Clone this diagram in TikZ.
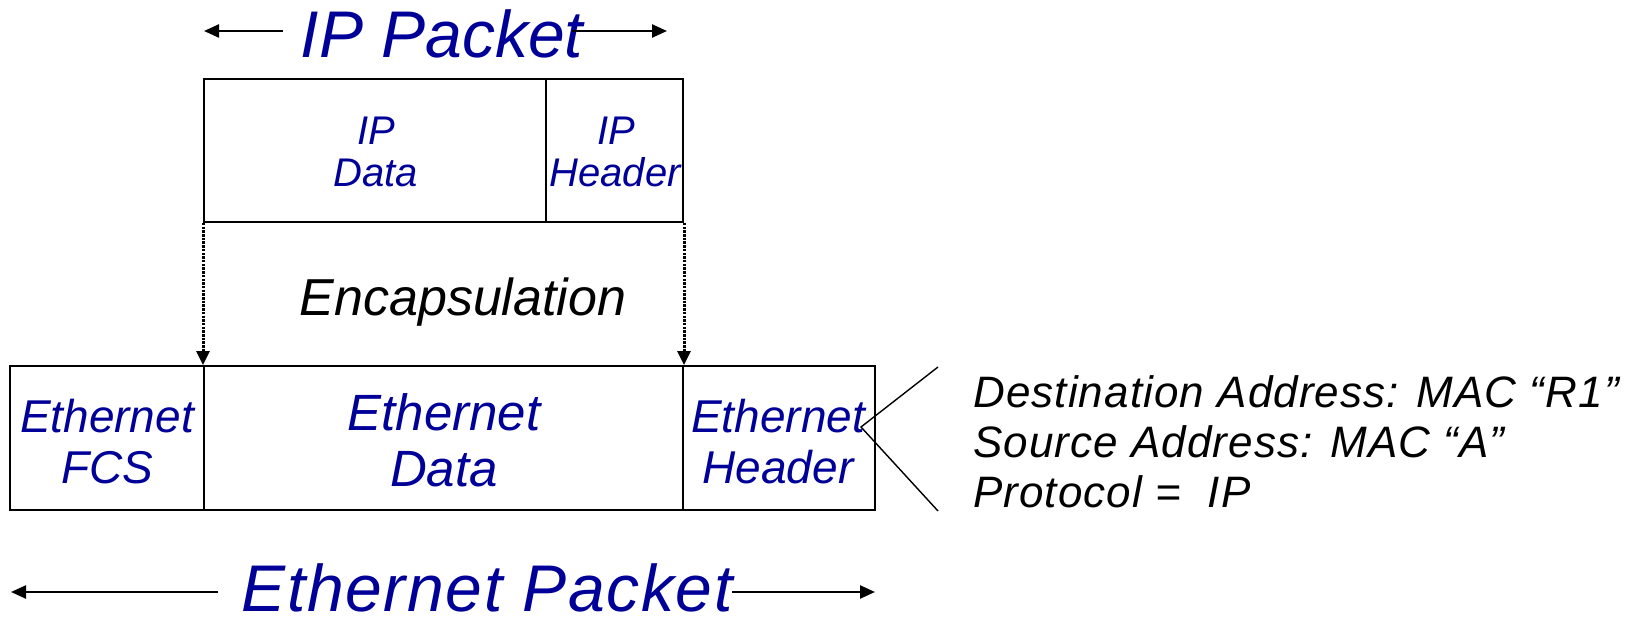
\documentclass[tikz,border=0pt]{standalone}
\usepackage{fontspec}
\setmainfont{Liberation Sans}
\usetikzlibrary{arrows.meta}
\definecolor{ipblue}{RGB}{0,0,153}
\begin{document}
\begin{tikzpicture}[x=1pt,y=-1pt,
  cell/.style={draw,line width=2pt,inner sep=0pt,minimum height=143pt},
  bt/.style={text=ipblue,anchor=base,inner sep=0pt},
  kt/.style={text=black,anchor=base west,inner sep=0pt,font=\itshape\fontsize{44}{50}\selectfont\addfontfeatures{LetterSpace=2.5}},
  dimarrow/.style={line width=2.4pt,-{Triangle[length=15pt,width=13pt]}},
  encarrow/.style={line width=3pt,dash pattern=on 2.5pt off 1.2pt,-{Triangle[length=14pt,width=13pt]}},
  callout/.style={line width=1.4pt},
  f40/.style={font=\itshape\fontsize{40}{48}\selectfont},
  f47/.style={font=\itshape\fontsize{46}{54}\selectfont},
  f52/.style={font=\itshape\fontsize{51}{60}\selectfont},
]
\useasboundingbox (0,0) rectangle (1629,620);

% top cells
\node[cell,minimum width=342pt] (ipdata) at (375,150.5) {};
\node[cell,minimum width=137pt] (iphdr) at (614.5,150.5) {};
% bottom cells
\node[cell,minimum width=194pt,minimum height=144pt] (ethfcs) at (107,438) {};
\node[cell,minimum width=479pt,minimum height=144pt] (ethdata) at (443.5,438) {};
\node[cell,minimum width=192pt,minimum height=144pt] (ethhdr) at (779,438) {};

% cell texts
\node[bt,f40] (t1) at (376,145) {IP};
\node[bt,f40] (t2) at (376,187) {Data};
\node[bt,f40] (t3) at (616,145) {IP};
\node[bt,f40] (t4) at (615,187) {Header};
\node[bt,f47] (t5) at (107,432) {Ethernet};
\node[bt,f47] (t6) at (107,483) {FCS};
\node[bt,f52] (t7) at (444,430) {Ethernet};
\node[bt,f52] (t8) at (444,486) {Data};
\node[bt,f47] (t9) at (778,432) {Ethernet};
\node[bt,f47] (t10) at (778,483) {Header};

% encapsulation
\node[anchor=base,inner sep=0pt,font=\itshape\fontsize{52}{60}\selectfont] (enc) at (463,315) {Encapsulation};
\draw[encarrow] (ipdata.south west) -- (ethdata.north west);
\draw[encarrow] (iphdr.south east) -- (ethdata.north east);

% IP Packet title and arrows
\node[bt,font=\itshape\fontsize{66}{70}\selectfont] (ippkt) at (442,58) {IP Packet};
\coordinate (ipa1) at (283,31);
\coordinate (ipa1t) at (204,31);
\coordinate (ipa2) at (572,31);
\coordinate (ipa2t) at (667,31);
\draw[dimarrow] (ipa1) -- (ipa1t);
\draw[dimarrow] (ipa2) -- (ipa2t);

% Ethernet Packet title and arrows
\node[bt,font=\itshape\fontsize{66}{70}\selectfont\addfontfeatures{LetterSpace=2.5}] (ethpkt) at (487,611) {Ethernet Packet};
\coordinate (ea1) at (218,592);
\coordinate (ea1t) at (11,592);
\coordinate (ea2) at (732,592);
\coordinate (ea2t) at (875,592);
\draw[dimarrow] (ea1) -- (ea1t);
\draw[dimarrow] (ea2) -- (ea2t);

% callout
\coordinate (cv) at (861,427);
\coordinate (cu) at (938,367);
\coordinate (cl) at (938,511);
\draw[callout] (cu) -- (cv) -- (cl);
\node[kt] (d1) at (973,407) {Destination Address: MAC “R1”};
\node[kt] (d2) at (973,457) {Source Address: MAC “A”};
\node[kt] (d3) at (973,507) {Protocol = \ IP};
\end{tikzpicture}
\end{document}
